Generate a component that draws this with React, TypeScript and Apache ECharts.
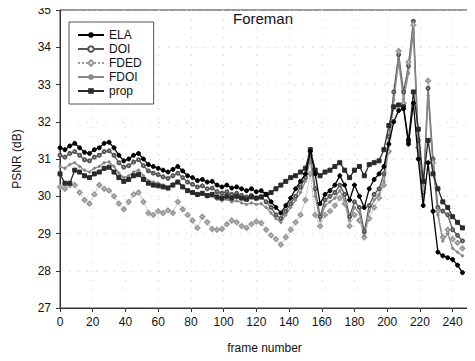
import React, { useEffect, useRef } from "react";
import * as echarts from "echarts";

const frames = [
  0, 3, 6, 9, 12, 15, 18, 21, 24, 27,
  30, 33, 36, 39, 42, 45, 48, 51, 54, 57,
  60, 63, 66, 69, 72, 75, 78, 81, 84, 87,
  90, 93, 96, 99, 102, 105, 108, 111, 114, 117,
  120, 123, 126, 129, 132, 135, 138, 141, 144, 147,
  150, 153, 156, 159, 162, 165, 168, 171, 174, 177,
  180, 183, 186, 189, 192, 195, 198, 201, 204, 207,
  210, 213, 216, 219, 222, 225, 228, 231, 234, 237,
  240, 243, 246,
];

const ela = [
  31.3, 31.25, 31.35, 31.42, 31.3, 31.18, 31.15, 31.25, 31.3, 31.42,
  31.45, 31.3, 31.1, 30.95, 31.0, 31.1, 31.15, 31.0, 30.85, 30.8,
  30.75, 30.7, 30.65, 30.72, 30.8, 30.68, 30.55, 30.5, 30.42, 30.45,
  30.38, 30.4, 30.3, 30.25, 30.3, 30.22, 30.25, 30.2, 30.15, 30.2,
  30.12, 30.15, 30.05, 29.85, 29.7, 29.55, 29.75, 29.95, 30.2, 30.4,
  30.6, 31.2, 30.6, 29.8, 30.05, 30.15, 30.3, 30.55, 30.3, 29.9,
  30.3, 30.0, 29.7, 30.2, 30.45, 30.6, 30.8, 31.4, 32.0, 32.3,
  32.35, 31.4, 32.5, 31.0, 29.75, 30.9, 29.6, 28.5, 28.4, 28.35,
  28.3, 28.15, 27.95,
];

const doi = [
  31.1, 31.05, 31.15, 31.2, 31.1, 30.98, 30.95, 31.05, 31.1, 31.2,
  31.22, 31.1, 30.9, 30.78, 30.82, 30.92, 30.98, 30.82, 30.68, 30.62,
  30.58, 30.52, 30.48, 30.55, 30.62, 30.5, 30.38, 30.32, 30.25, 30.28,
  30.2, 30.22, 30.12, 30.08, 30.12, 30.05, 30.08, 30.02, 29.98, 30.02,
  29.95, 29.98, 29.85, 29.7, 29.5, 29.4, 29.6, 29.8, 30.0, 30.25,
  30.5, 31.1, 30.2, 29.45, 29.9, 30.0, 30.1, 30.3, 30.05, 29.45,
  29.85, 29.7, 29.05, 29.75, 30.05, 30.2, 30.6, 31.6, 32.8, 33.8,
  32.8, 33.5, 34.7, 31.5, 30.1, 32.9, 31.0, 29.7, 29.6, 29.5,
  29.1, 28.95, 28.8,
];

const fded = [
  30.25, 30.2, 30.3, 30.3, 30.1, 29.9, 29.8, 30.05, 30.3, 30.2,
  30.15, 30.0, 29.8, 29.65, 29.85, 30.05, 30.1, 29.85, 29.55, 29.5,
  29.6, 29.55, 29.62, 29.55, 29.85, 29.65, 29.5, 29.35, 29.15, 29.45,
  29.3, 29.12, 29.1, 29.12, 29.25, 29.35, 29.3, 29.2, 29.15, 29.25,
  29.32, 29.28, 29.1, 28.95, 28.85, 28.7, 28.9, 29.1, 29.3, 29.5,
  29.9, 30.6, 29.5, 29.2, 29.5, 29.6, 29.75, 29.95, 29.8, 29.2,
  29.5, 29.35, 28.9, 29.4, 29.7, 29.95, 30.3, 31.2, 32.4, 33.9,
  32.5, 33.6, 34.6, 31.3, 30.2, 33.1, 30.9, 29.6, 28.9, 29.1,
  28.85, 28.75, 28.6,
];

const fdoi = [
  30.8, 30.75, 30.85, 30.9, 30.8, 30.7, 30.65, 30.75, 30.8, 30.9,
  30.92, 30.8, 30.62, 30.5, 30.55, 30.65, 30.7, 30.55, 30.42, 30.38,
  30.35, 30.3, 30.25, 30.32, 30.4, 30.28, 30.15, 30.1, 30.02, 30.05,
  29.98, 30.0, 29.92, 29.88, 29.92, 29.85, 29.88, 29.82, 29.78, 29.82,
  29.78, 29.8, 29.7, 29.55, 29.4, 29.3, 29.5, 29.7, 29.9, 30.1,
  30.4, 31.0, 30.0, 29.35, 29.75, 29.85, 29.95, 30.15, 29.9, 29.35,
  29.7, 29.55, 28.95, 29.6, 29.9, 30.05, 30.4, 31.4, 32.6, 33.6,
  32.6, 33.3, 34.4, 31.2, 30.0, 32.7, 30.8, 29.5, 28.8, 29.0,
  28.6, 28.5, 28.4,
];

const prop = [
  30.6, 30.35, 30.35, 30.7, 30.65, 30.55, 30.5, 30.6, 30.65, 30.75,
  30.78, 30.65, 30.5, 30.4, 30.45, 30.55, 30.58, 30.45, 30.35, 30.3,
  30.28, 30.25, 30.22, 30.3, 30.38, 30.25, 30.15, 30.1, 30.05, 30.08,
  30.02, 30.05, 29.98, 29.95, 30.0, 29.95, 30.0, 29.95, 29.92, 29.98,
  29.95, 29.98, 30.05, 30.1, 30.2, 30.3, 30.4, 30.5, 30.55, 30.65,
  30.75, 31.25, 30.7, 30.55, 30.65, 30.7, 30.8, 30.9, 30.7, 30.5,
  30.7, 30.8, 30.55, 30.85, 30.9, 30.95, 31.25, 31.9, 32.4, 32.45,
  32.4, 31.5, 32.8, 31.8, 30.4, 31.5, 30.6, 30.2, 29.85, 29.7,
  29.45, 29.3, 29.15,
];

const seriesNames = ["ELA", "DOI", "FDED", "FDOI", "prop"];

const FONT = "Liberation Sans";

function pairs(vals: number[]) {
  return frames.map((f, i) => [f, vals[i]]);
}

export default function App() {
  const ref = useRef<HTMLDivElement>(null);
  useEffect(() => {
    if (!ref.current) return;
    const chart = echarts.init(ref.current, null, { renderer: "svg" });
    const dataSets = [ela, doi, fded, fdoi, prop];
    const styles = [
      { color: "#000", type: "solid", symbol: "circle", size: 4, width: 1.3 },
      { color: "#555", type: "solid", symbol: "emptyCircle", size: 3, width: 1.3 },
      { color: "#9a9a9a", type: "dotted", symbol: "emptyDiamond", size: 4, width: 1 },
      { color: "#888", type: "solid", symbol: "circle", size: 2.5, width: 1.3 },
      { color: "#2a2a2a", type: "solid", symbol: "rect", size: 4, width: 1.3 },
    ];
    chart.setOption({
      animation: false,
      backgroundColor: "#fff",
      textStyle: { fontFamily: FONT },
      grid: {
        left: 60,
        right: 6,
        top: 10,
        bottom: 53,
        show: true,
        borderColor: "#333",
        borderWidth: 1,
      },
      graphic: [
        {
          type: "text",
          left: 233,
          top: 11,
          style: { text: "Foreman", font: `15px ${FONT}`, fill: "#111" },
        },
      ],
      legend: {
        orient: "vertical",
        left: 69,
        top: 22,
        padding: [7, 12, 7, 8],
        itemGap: 2,
        itemWidth: 26,
        itemHeight: 7,
        backgroundColor: "#fff",
        borderColor: "#555",
        borderWidth: 1,
        textStyle: { fontFamily: FONT, fontSize: 12, color: "#111" },
        data: seriesNames,
      },
      xAxis: {
        type: "value",
        min: 0,
        max: 250,
        interval: 20,
        name: "frame number",
        nameLocation: "middle",
        nameGap: 34,
        nameTextStyle: { fontFamily: FONT, fontSize: 12, color: "#111" },
        axisLine: { show: true, lineStyle: { color: "#333" } },
        axisTick: { show: true, length: 4, lineStyle: { color: "#333" } },
        axisLabel: { fontFamily: FONT, fontSize: 12, color: "#111", showMaxLabel: false },
        splitLine: { show: true, lineStyle: { color: "#d0d0d0", type: [1, 8] } },
      },
      yAxis: {
        type: "value",
        min: 27,
        max: 35,
        interval: 1,
        name: "PSNR (dB)",
        nameLocation: "middle",
        nameGap: 37,
        nameTextStyle: { fontFamily: FONT, fontSize: 12, color: "#111" },
        axisLine: { show: true, lineStyle: { color: "#333" } },
        axisTick: { show: true, length: 4, lineStyle: { color: "#333" } },
        axisLabel: { fontFamily: FONT, fontSize: 12, color: "#111", margin: 9 },
        splitLine: { show: true, lineStyle: { color: "#d0d0d0", type: [1, 8] } },
      },
      series: dataSets.map((d, i) => ({
        name: seriesNames[i],
        type: "line",
        data: pairs(d),
        symbol: styles[i].symbol,
        symbolSize: styles[i].size,
        showAllSymbol: true,
        lineStyle: { color: styles[i].color, width: styles[i].width, type: styles[i].type },
        itemStyle: { color: styles[i].color, borderColor: styles[i].color },
        z: 2 + (i === 0 ? 3 : i === 4 ? 2 : 0),
      })),
    });
    return () => chart.dispose();
  }, []);
  return <div ref={ref} style={{ width: 475, height: 361, margin: -8 }} />;
}
